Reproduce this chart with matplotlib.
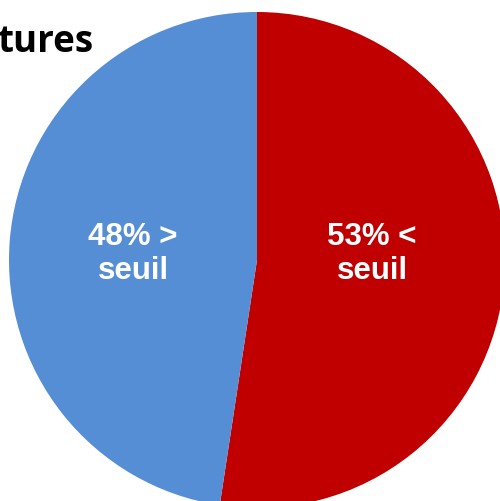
import matplotlib
matplotlib.use("Agg")
import matplotlib.pyplot as plt

categories = ["< seuil", "> seuil"]
values = [52.4, 47.6]
labels = ["53% <\nseuil", "48% >\nseuil"]
colors = ["#C00000", "#558ED5"]
title = "tures"

W, H = 500, 502
fig = plt.figure(figsize=(W / 100, H / 100), dpi=100)
ax = fig.add_axes([0, 0, 1, 1])

cx, cy, r = 257, H - 261, 248
wedges, _ = ax.pie(values, colors=colors, startangle=90, counterclock=False,
                   center=(cx, cy), radius=r, frame=True,
                   wedgeprops=dict(linewidth=0))
ax.set_xlim(0, W)
ax.set_ylim(0, H)
ax.set_aspect("equal")
ax.axis("off")

label_pos = [(372, H - 254), (133, H - 254)]
for (x, y), t in zip(label_pos, labels):
    ax.text(x, y, t, ha="center", va="center", color="white",
            fontsize=22.5, fontweight="bold", family="Liberation Sans",
            linespacing=1.18)

ax.text(93, H - 42, title, ha="right", va="center", color="black",
        fontsize=26.5, fontweight="bold", family="Open Sans")

fig.savefig("out.png", dpi=100)
